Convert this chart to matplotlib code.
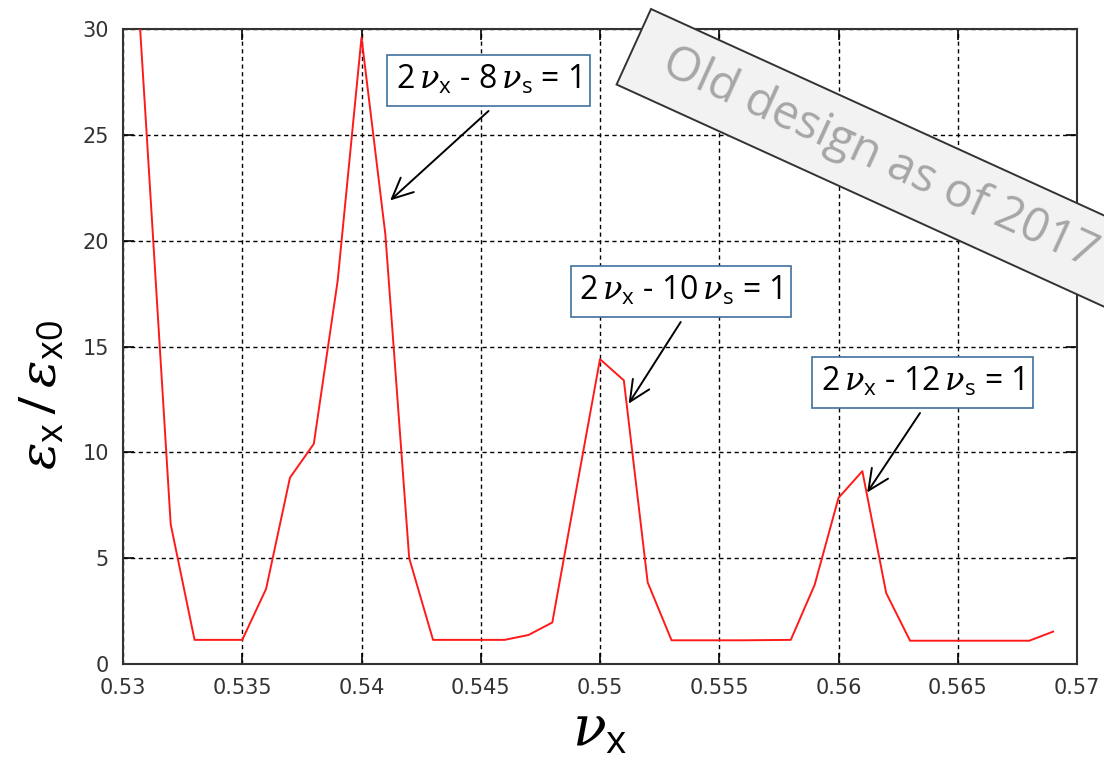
import matplotlib
matplotlib.use("Agg")
import matplotlib.pyplot as plt
from matplotlib.patches import Rectangle
from matplotlib.transforms import Affine2D

# tune nu_x and emittance growth eps_x/eps_x0
nu_x = [0.530, 0.531, 0.532, 0.533, 0.534, 0.535, 0.536, 0.537, 0.538, 0.539,
        0.540, 0.541, 0.542, 0.543, 0.544, 0.545, 0.546, 0.547, 0.548, 0.549,
        0.550, 0.551, 0.552, 0.553, 0.554, 0.555, 0.556, 0.557, 0.558, 0.559,
        0.560, 0.561, 0.562, 0.563, 0.564, 0.565, 0.566, 0.567, 0.568, 0.569]
eps_ratio = [43.0, 24.9, 6.6, 1.14, 1.14, 1.14, 3.55, 8.8, 10.4, 18.1,
             29.6, 20.3, 5.0, 1.14, 1.14, 1.14, 1.14, 1.37, 1.96, 8.2,
             14.4, 13.4, 3.85, 1.12, 1.12, 1.12, 1.12, 1.13, 1.14, 3.74,
             7.85, 9.11, 3.35, 1.1, 1.1, 1.1, 1.1, 1.1, 1.1, 1.53]

x_ticks = [0.53, 0.535, 0.54, 0.545, 0.55, 0.555, 0.56, 0.565, 0.57]
x_tick_labels = ["0.53", "0.535", "0.54", "0.545", "0.55", "0.555", "0.56", "0.565", "0.57"]
y_ticks = [0, 5, 10, 15, 20, 25, 30]

# resonance labels: text, arrow target (nu, eps)
resonances = [
    (r"2$\,\nu_{\rm x}$ - 8$\,\nu_{\rm s}$ = 1", (0.5412, 21.9)),
    (r"2$\,\nu_{\rm x}$ - 10$\,\nu_{\rm s}$ = 1", (0.5512, 12.3)),
    (r"2$\,\nu_{\rm x}$ - 12$\,\nu_{\rm s}$ = 1", (0.5612, 8.1)),
]
box_centers = [(488.5, 80.5), (681, 291.5), (922.5, 382.5)]   # pixel centers
arrow_tails = [(488.5, 111), (680.7, 322), (920, 413)]

plt.rcParams["mathtext.fontset"] = "custom"
plt.rcParams["mathtext.rm"] = "Open Sans"
plt.rcParams["mathtext.it"] = "DejaVu Serif:italic"
plt.rcParams["mathtext.sf"] = "Open Sans"

W, H = 1104, 760
fig = plt.figure(figsize=(W / 100, H / 100), dpi=100)
ax = fig.add_axes([123 / W, 1 - 664 / H, (1077 - 123) / W, (664 - 29) / H])

ax.plot(nu_x, eps_ratio, color="#ff1a1a", lw=1.4, zorder=3)

ax.set_xlim(0.53, 0.57)
ax.set_ylim(0, 30)
ax.set_xticks(x_ticks)
ax.set_xticklabels(x_tick_labels)
ax.set_yticks(y_ticks)
ax.tick_params(direction="in", length=8, width=1.2, top=True, right=True,
               labelsize=15, labelcolor="#333333", pad=10)
ax.grid(True, color="black", ls=(0, (3, 2.5)), lw=1.0)
for s in ax.spines.values():
    s.set_color("#333333")
    s.set_linewidth(1.5)

ax.set_ylabel(r"$\varepsilon_{\rm x}\,/\,\varepsilon_{\rm x0}$", fontsize=37)
ax.yaxis.set_label_coords(-56 / 954, (664 - 395) / 635)
ax.set_xlabel(r"$\nu_{\rm x}$", fontsize=40)
ax.xaxis.set_label_coords(477 / 954, -(703 - 664) / 635)

def to_data(px, py):
    disp = (px, H - py)
    return ax.transData.inverted().transform(disp)

for (label, target), (cx, cy), (tx, ty) in zip(resonances, box_centers, arrow_tails):
    ax.text(*to_data(cx, cy), label, fontsize=23, family="Open Sans",
            ha="center", va="center", zorder=6,
            bbox=dict(boxstyle="square,pad=0.28", fc="white", ec="#41719c", lw=1.2))
    ax.annotate("", xy=target, xytext=to_data(tx, ty),
                arrowprops=dict(arrowstyle="->,head_length=1.5,head_width=0.7",
                                color="black", lw=1.4, shrinkA=0, shrinkB=0),
                zorder=5)

# rotated "old design" banner across the top-right corner
ang = -24.5
tr = Affine2D().rotate_deg(ang).translate(651, H - 9)
band = Rectangle((0, -83), 700, 83, transform=tr, fc="#f2f2f2", ec="#333333",
                 lw=1.4, zorder=10)
fig.add_artist(band)
fig.text(880 / W, 1 - 158 / H, "Old design as of 2017", rotation=ang,
         rotation_mode="anchor", ha="center", va="center", fontsize=34,
         family="Open Sans", color="#a6a6a6", zorder=11)

fig.savefig("out.png", dpi=100)
